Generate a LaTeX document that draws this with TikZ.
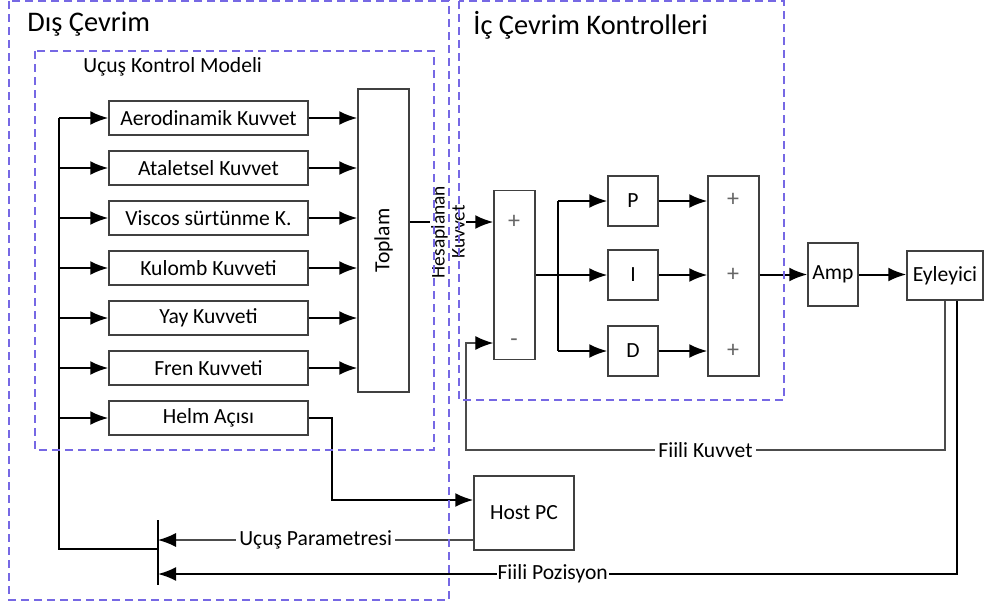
\documentclass[tikz,border=0pt]{standalone}
\usepackage{fontspec}
\setmainfont{Carlito}
\usetikzlibrary{arrows.meta}

\definecolor{cerceve}{RGB}{118,104,228}
\tikzset{
  blok/.style={draw=black!75, line width=0.75pt, minimum width=99.5pt, minimum height=17pt, inner sep=0pt, font=\fontsize{10.8}{13}\selectfont},
  kutu/.style={draw=black!75, line width=0.75pt, inner sep=0pt, font=\fontsize{10.8}{13}\selectfont},
  ok/.style={-{Latex[length=9pt,width=7pt,color=black]}, line width=1pt},
  hat/.style={line width=1pt},
  ince/.style={line width=0.7pt, draw=black!70},
  cerc/.style={draw=cerceve, line width=0.8pt, dash pattern=on 4pt off 2.5pt},
  etiket/.style={fill=white, inner sep=1.5pt, font=\fontsize{10.8}{13}\selectfont},
  isaret/.style={text=black!60, inner sep=0pt, font=\fontsize{12}{14}\selectfont},
  baslik/.style={anchor=base west, inner sep=0pt, font=\fontsize{14.2}{17}\selectfont}
}

\begin{document}
\begin{tikzpicture}[x=0.5pt, y=-0.5pt]
\useasboundingbox (0,0) rectangle (985,605);

% ucus kontrol modeli
\path (208.5,118) node[blok] (aero) {Aerodinamik Kuvvet}
      (208.5,168) node[blok] (atal) {Ataletsel Kuvvet}
      (208.5,218) node[blok] (visc) {Viscos sürtünme K.}
      (208.5,268) node[blok] (kul) {Kulomb Kuvveti}
      (208.5,318) node[blok] (yay) {Yay Kuvveti}
      (208.5,368) node[blok] (fren) {Fren Kuvveti}
      (208.5,418) node[blok] (helm) {Helm Açısı}
      (383.5,240.5) node[kutu, minimum width=25.5pt, minimum height=151.5pt] (toplam) {};
\node[rotate=90, font=\fontsize{10.8}{13}\selectfont] at (toplam) {Toplam};

% ic cevrim
\path (514.5,275) node[kutu, minimum width=20.5pt, minimum height=84.5pt] (fark) {}
      (514,222) node[isaret] (fplus) {+}
      (514,343) node[isaret] (fminus) {-}
      (633,201) node[kutu, minimum size=25pt] (kp) {P}
      (633,275) node[kutu, minimum size=25pt] (ki) {I}
      (633,351) node[kutu, minimum size=25pt] (kd) {D}
      (733.5,276) node[kutu, minimum width=25.5pt, minimum height=100pt] (topla) {}
      (733,200) node[isaret] (s1) {+}
      (733,275) node[isaret] (s2) {+}
      (733,351) node[isaret] (s3) {+}
      (833,274.5) node[kutu, minimum width=25pt, minimum height=31.5pt] (amp) {Amp}
      (945,275.5) node[kutu, minimum width=38pt, minimum height=24.5pt] (eyl) {Eyleyici}
      (524,513) node[kutu, minimum width=50pt, minimum height=37pt] (host) {Host PC};

\coordinate (bus) at (59,549);
\coordinate (barust) at (158,520);
\coordinate (baralt) at (158,585);
\coordinate (poz) at (158,574);
\coordinate (dal) at (558,275);
\coordinate (fk) at (466,450);
\coordinate (hpc) at ([yshift=-13.5pt]host.west);

% baglantilar
\draw[hat] (aero.west -| bus) -- (bus) -- (bus -| barust);
\draw[hat] (barust) -- (baralt);
\foreach \b in {aero,atal,visc,kul,yay,fren,helm}
  \draw[ok] (\b.west -| bus) -- (\b.west);
\foreach \b in {aero,atal,visc,kul,yay,fren}
  \draw[ok] (\b.east) -- (\b.east -| toplam.west);
\draw[ok] (helm.east) -- ++(23,0) |- ([yshift=6.5pt]host.west);
\draw[ok, ince] (hpc) -- node[etiket] {Uçuş Parametresi} (hpc -| barust);

\draw[ok] (toplam.east |- fplus) -- (fark.west |- fplus);
\node[rotate=90, align=center, fill=white, inner sep=0.5pt, font=\fontsize{9.7}{10}\selectfont] (hesap) at (448,232) {Hesaplanan\\Kuvvet};

\draw[hat] (fark.east) -- (dal);
\draw[hat] (kp.west -| dal) -- (kd.west -| dal);
\foreach \k in {kp,ki,kd} {
  \draw[ok] (\k.west -| dal) -- (\k.west);
  \draw[ok] (\k.east) -- (\k.east -| topla.west);
}
\draw[ok] (topla.east |- amp.west) -- (amp.west);
\draw[ok] (amp.east) -- (eyl.west |- amp.east);

\draw[ok, ince] (eyl.south) |- node[etiket, pos=0.75] {Fiili Kuvvet} (fk) |- (fminus -| fark.west);
\draw[ok] ([xshift=6pt]eyl.south) |- node[etiket, pos=0.753, inner sep=0.5pt] {Fiili Pozisyon} (poz);

% cerceveler
\draw[cerc] (9,1) rectangle (449,600);
\draw[cerc] (35,51) rectangle (434,450);
\draw[cerc] (459,1) rectangle (784,400);
\node[baslik] at (27,32) {Dış Çevrim};
\node[baslik] at (473,34) {İç Çevrim Kontrolleri};
\node[baslik, font=\fontsize{10.8}{13}\selectfont] at (83,72) {Uçuş Kontrol Modeli};
\end{tikzpicture}
\end{document}
